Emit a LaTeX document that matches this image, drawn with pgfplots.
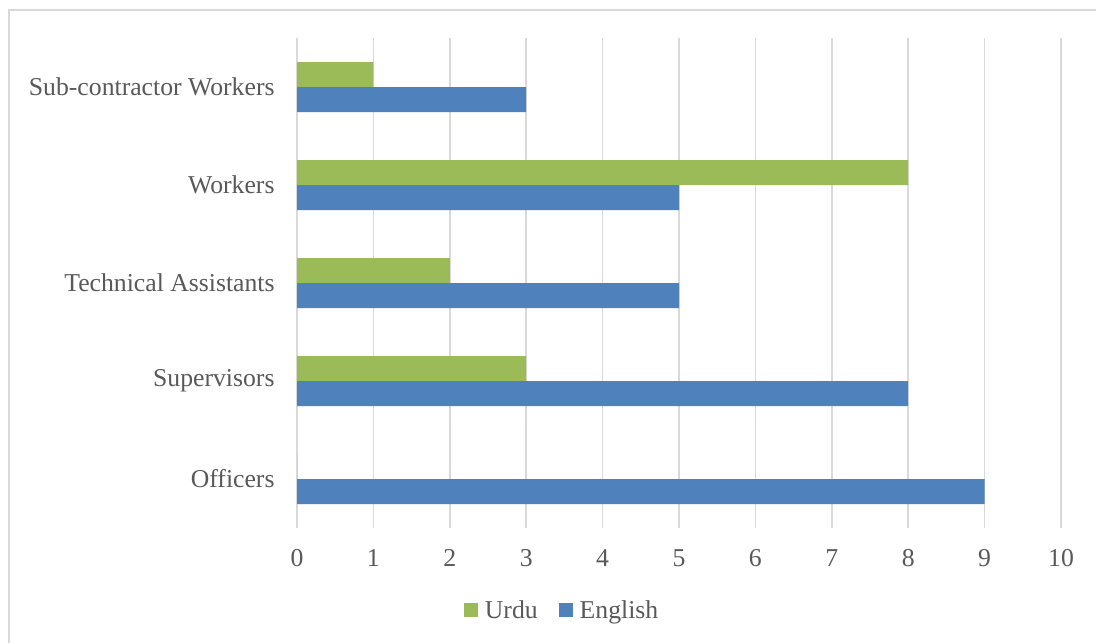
\documentclass[border=0pt]{standalone}
\usepackage{fontspec}
\setmainfont{Liberation Serif}
\usepackage{pgfplots}
\pgfplotsset{compat=1.18}
\definecolor{urdu}{HTML}{9BBB59}
\definecolor{english}{HTML}{4F81BD}
\definecolor{gridc}{HTML}{D9D9D9}
\definecolor{txt}{HTML}{595959}
\begin{document}
\begin{tikzpicture}
\path[use as bounding box] (0,0) rectangle (1096bp,-643bp);
\fill[white] (0,0) rectangle (1096bp,-643bp);
\draw[gridc, line width=1.5bp] (8.75bp,-643bp) -- (8.75bp,-9.75bp) -- (1096bp,-9.75bp);
\begin{axis}[
  at={(297bp,-528bp)}, anchor=south west,
  scale only axis, width=764bp, height=490bp,
  xbar, bar width=25bp,
  xmin=0, xmax=10, ymin=-0.5, ymax=4.5,
  xtick={0,1,...,10},
  ytick={0,1,2,3,4},
  yticklabels={Officers, Supervisors, Technical Assistants, Workers, Sub-contractor Workers},
  axis line style={draw=none},
  tick style={draw=none},
  xmajorgrids, ymajorgrids=false,
  major grid style={gridc, line width=1.5bp},
  font=\fontsize{25.8}{30}\selectfont,
  /pgf/number format/assume math mode=true,
  ticklabel style={text=txt},
  xticklabel style={anchor=north, inner sep=0pt, yshift=-21bp},
  yticklabel style={anchor=east, inner sep=0pt, xshift=-18bp},
  legend style={at={(0.347,-0.167)}, anchor=center, legend columns=2, draw=none, fill=none,
    font=\fontsize{25.8}{30}\selectfont, text=txt, inner sep=0pt,
    /tikz/every odd column/.append style={column sep=5bp},
    /tikz/every even column/.append style={column sep=19bp}},
  legend cell align=left,
]
\addplot[fill=urdu, draw=none, bar shift=12.5bp,
  legend image code/.code={\fill[urdu] (0bp,-7bp) rectangle (14bp,7bp);}]
  coordinates {(0,0) (3,1) (2,2) (8,3) (1,4)};
\addlegendentry{Urdu}
\addplot[fill=english, draw=none, bar shift=-12.5bp,
  legend image code/.code={\fill[english] (0bp,-7bp) rectangle (14bp,7bp);}]
  coordinates {(9,0) (8,1) (5,2) (5,3) (3,4)};
\addlegendentry{English}
\end{axis}
\end{tikzpicture}
\end{document}
